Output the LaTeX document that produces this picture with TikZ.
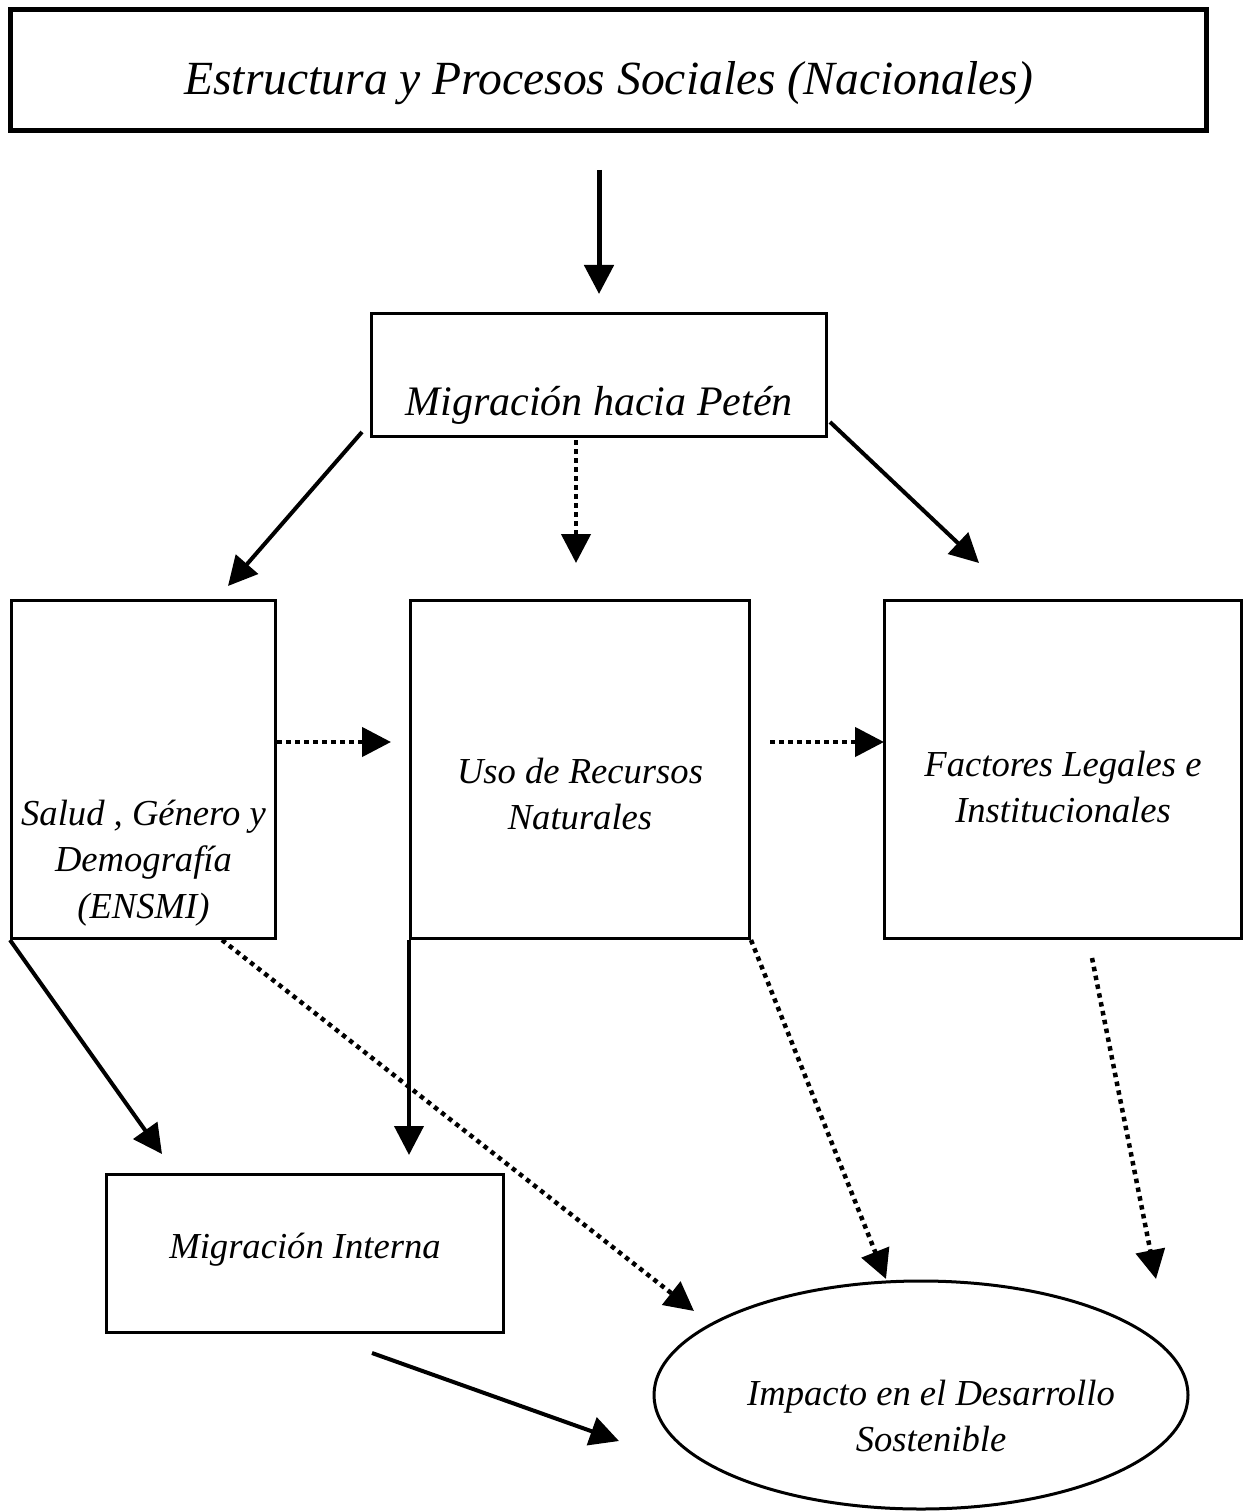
\documentclass[tikz,border=0pt]{standalone}
\usepackage{fontspec}
\setmainfont{Liberation Serif}
\usetikzlibrary{arrows.meta,shapes.geometric}
\begin{document}
\begin{tikzpicture}[x=1pt,y=-1pt,
  box/.style={draw,line width=3.5pt,inner sep=0pt,rectangle},
  lbl/.style={font=\fontsize{36.6}{46.5}\selectfont\itshape,align=center,inner sep=0pt},
  sol/.style={line width=4pt,-{Triangle[length=29pt,width=29pt]}},
  dotarrow/.style={line width=4.5pt,dash pattern=on 4.5pt off 4.5pt,-{Triangle[length=29pt,width=29pt]}}]
\useasboundingbox (0,0) rectangle (1244,1511);

% boxes
\node[box,line width=5pt,minimum width=1196pt,minimum height=121pt] (title) at (608,70.5) {};
\node[box,minimum width=455pt,minimum height=123pt] (mig) at (599,375) {};
\node[box,minimum width=264pt,minimum height=338pt] (salud) at (143.5,769.5) {};
\node[box,minimum width=339pt,minimum height=338pt] (uso) at (580,769.5) {};
\node[box,minimum width=357pt,minimum height=338pt] (fact) at (1063,769.5) {};
\node[box,minimum width=397pt,minimum height=158pt] (migint) at (305,1253.5) {};
\node[draw,ellipse,line width=3pt,minimum width=534pt,minimum height=228pt,inner sep=0pt] (imp) at (921,1395) {};

% texts
\node[lbl,font=\fontsize{47.6}{56}\selectfont\itshape,anchor=base] (ttitle) at (609,95) {Estructura y Procesos Sociales (Nacionales)};
\node[lbl,font=\fontsize{42}{50}\selectfont\itshape,anchor=base] (tmig) at (599,415) {Migración hacia Petén};
\node[lbl] (tsalud) at (143.5,862.7) {Salud , Género y\\Demografía\\(ENSMI)};
\node[lbl] (tuso) at (580,794.2) {Uso de Recursos\\Naturales};
\node[lbl] (tfact) at (1063,787.2) {Factores Legales e\\Institucionales};
\node[lbl,anchor=base] (tmigint) at (305,1258) {Migración Interna};
\node[lbl] (timp) at (931,1416) {Impacto en el Desarrollo\\Sostenible};

% connector end points
\coordinate (a1s) at (599,170);  \coordinate (a1e) at (599,294);
\coordinate (a2s) at (362,432);  \coordinate (a2e) at (228,586);
\coordinate (a3s) at (576,440);  \coordinate (a3e) at (576,563);
\coordinate (a4s) at (830,422);  \coordinate (a4e) at (979,563);
\coordinate (a5s) at (277,742);  \coordinate (a5e) at (391,742);
\coordinate (a6s) at (770,742);  \coordinate (a6e) at (884,742);
\coordinate (a7s) at (10,940);   \coordinate (a7e) at (162,1154);
\coordinate (a8s) at (409,940);  \coordinate (a8e) at (409,1155);
\coordinate (a9s) at (222,940);  \coordinate (a9e) at (694,1311);
\coordinate (a10s) at (751,940); \coordinate (a10e) at (886,1279);
\coordinate (a11s) at (1092,958);\coordinate (a11e) at (1156,1279);
\coordinate (a12s) at (372,1353);\coordinate (a12e) at (619,1441);

% connectors
\draw[sol,line width=5pt] (a1s) -- (a1e);
\draw[sol] (a2s) -- (a2e);
\draw[dotarrow] (a3s) -- (a3e);
\draw[sol] (a4s) -- (a4e);
\draw[dotarrow] (a5s) -- (a5e);
\draw[dotarrow] (a6s) -- (a6e);
\draw[sol] (a7s) -- (a7e);
\draw[sol] (a8s) -- (a8e);
\draw[dotarrow] (a9s) -- (a9e);
\draw[dotarrow] (a10s) -- (a10e);
\draw[dotarrow] (a11s) -- (a11e);
\draw[sol] (a12s) -- (a12e);
\end{tikzpicture}
\end{document}
